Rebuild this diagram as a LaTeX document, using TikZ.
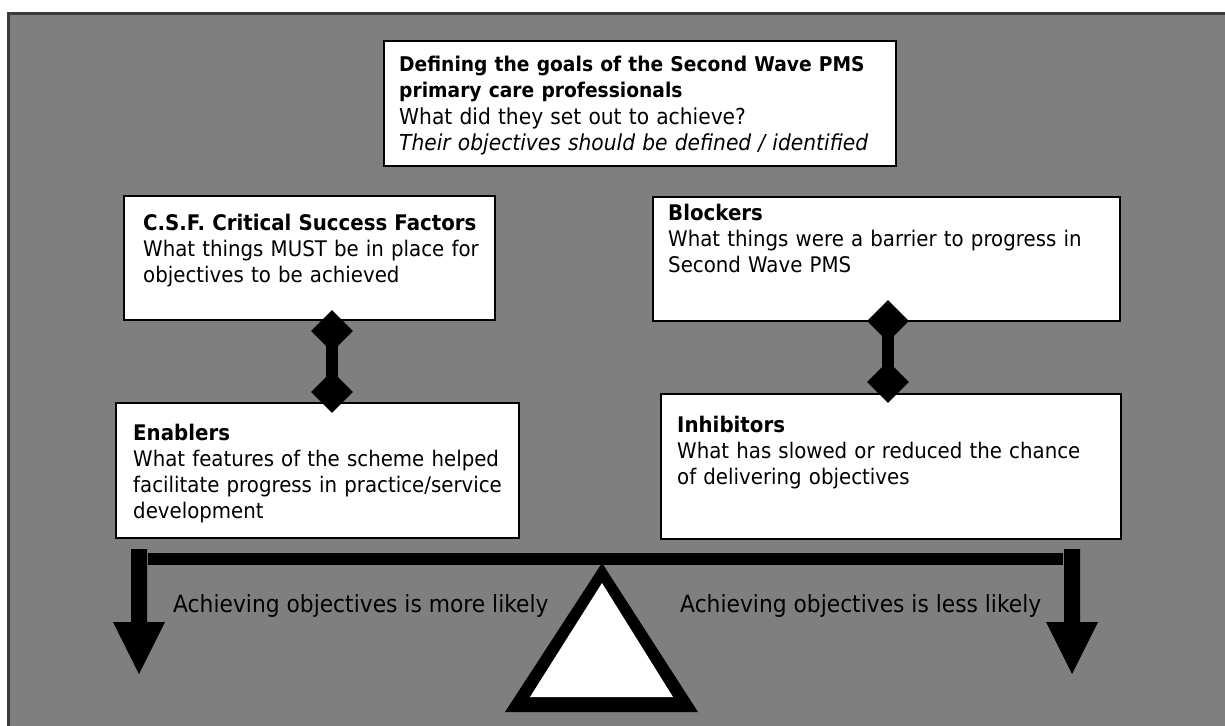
\documentclass[tikz,border=0pt]{standalone}
\usepackage{fontspec}
\setmainfont{DejaVu Sans}[FakeStretch=0.92]
\usetikzlibrary{shapes.geometric}
\definecolor{bggray}{HTML}{7F7F7F}
\definecolor{framegray}{HTML}{3A3A3A}
\tikzset{
  box/.style={draw=black, line width=1.6pt, fill=white, rectangle, inner sep=0pt, anchor=north west},
  txt/.style={anchor=base west, inner sep=0pt, align=left, font=\fontsize{21.5}{26}\selectfont},
  diam/.style={diamond, fill=black, draw=none, minimum width=42pt, minimum height=42pt, inner sep=0pt},
  shaft/.style={line width=12pt, draw=black},
  lbl/.style={anchor=base west, inner sep=0pt, font=\fontsize{23.7}{28}\selectfont}
}
\newcommand{\hdline}[1]{{\bfseries\fontsize{21.5}{26}\selectfont #1\par}}
\begin{document}
\begin{tikzpicture}[x=1pt,y=-1pt]
\useasboundingbox (0,0) rectangle (1225,725);
\begin{scope}
\clip (0,0) rectangle (1225,725);
\fill[bggray] (8.5,13.5) rectangle (1260,760);
\draw[framegray, line width=3pt] (8.5,13.5) rectangle (1260,760);
\end{scope}

% boxes
\node[box, minimum width=512pt, minimum height=125pt] (goal) at (383,40) {};
\node[box, minimum width=371pt, minimum height=124pt] (csf) at (123,195) {};
\node[box, minimum width=467pt, minimum height=124pt] (blk) at (652,196) {};
\node[box, minimum width=403pt, minimum height=135pt] (enb) at (115,402) {};
\node[box, minimum width=460pt, minimum height=145pt] (inh) at (660,393) {};

% texts
\node[txt, text width=505pt] (goaltxt) at (399,71) {%
{\bfseries\fontsize{20.3}{26}\selectfont Defining the goals of the Second Wave PMS\\ primary care professionals\par}
\fontsize{22}{27.5}\selectfont What did they set out to achieve?\\
\itshape Their objectives should be defined / identified};
\node[txt, text width=360pt] (csftxt) at (143,230) {%
\hdline{C.S.F. Critical Success Factors}
What things MUST be in place for\\ objectives to be achieved};
\node[txt, text width=460pt] (blktxt) at (668,220) {%
\hdline{Blockers}
What things were a barrier to progress in\\ Second Wave PMS};
\node[txt, text width=395pt] (enbtxt) at (133,440) {%
\hdline{Enablers}
What features of the scheme helped\\ facilitate progress in practice/service\\ development};
\node[txt, text width=450pt] (inhtxt) at (677,432) {%
\hdline{Inhibitors}
What has slowed or reduced the chance\\ of delivering objectives};

% connectors
\node[diam] (d1) at (332,331) {};
\node[diam] (d2) at (332,392) {};
\draw[shaft] (d1.center) -- (d2.center);
\node[diam] (d3) at (888,321) {};
\node[diam] (d4) at (888,382) {};
\draw[shaft] (d3.center) -- (d4.center);

% balance
\fill[black] (148,553) rectangle (1063,565);
\fill[black] (131,549) -- (147,549) -- (147,622) -- (165,622) -- (139,674) -- (113,622) -- (131,622) -- cycle;
\fill[black] (1064,549) -- (1080,549) -- (1080,622) -- (1098,622) -- (1072,674) -- (1046,622) -- (1064,622) -- cycle;
\fill[black] (602,563) -- (698,712) -- (505,712) -- cycle;
\fill[white] (602,583) -- (673,697) -- (530,697) -- cycle;

\node[lbl] (more) at (173,612) {Achieving objectives is more likely};
\node[lbl] (less) at (680,612) {Achieving objectives is less likely};
\end{tikzpicture}
\end{document}
